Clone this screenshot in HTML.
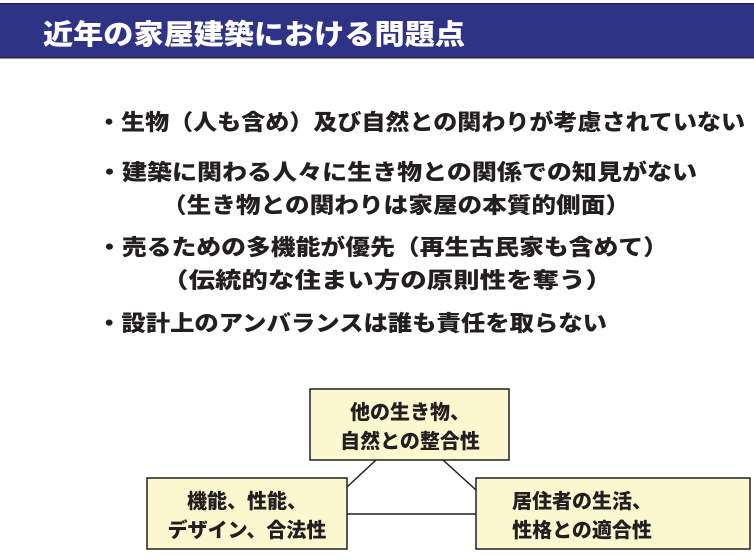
<!DOCTYPE html>
<html><head><meta charset="utf-8"><style>
html,body{margin:0;padding:0;background:#fff;}
svg{display:block}
text{font-family:"Liberation Sans","Noto Sans CJK JP",sans-serif;font-weight:900;}
</style></head><body>
<svg width="754" height="559" viewBox="0 0 754 559" xmlns="http://www.w3.org/2000/svg">
<rect x="0" y="3" width="754" height="55" fill="#2e3386"/>
<line x1="0" y1="3.5" x2="754" y2="3.5" stroke="#222" stroke-width="1"/>
<line x1="0" y1="58" x2="754" y2="58" stroke="#222" stroke-width="1"/>
<text x="43" y="44" font-size="28" fill="#fff" textLength="422" lengthAdjust="spacingAndGlyphs">近年の家屋建築における問題点</text>

<g font-size="22" fill="#231f20">
<text x="97" y="130" textLength="648" lengthAdjust="spacingAndGlyphs">・生物（人も含め）及び自然との関わりが考慮されていない</text>
<text x="97" y="180" textLength="600" lengthAdjust="spacingAndGlyphs">・建築に関わる人々に生き物との関係での知見がない</text>
<text x="162" y="213" textLength="468" lengthAdjust="spacingAndGlyphs">（生き物との関わりは家屋の本質的側面）</text>
<text x="97" y="255" textLength="571" lengthAdjust="spacingAndGlyphs">・売るための多機能が優先（再生古民家も含めて）</text>
<text x="162" y="288" textLength="450" lengthAdjust="spacingAndGlyphs">（伝統的な住まい方の原則性を奪う）</text>
<text x="97" y="331" textLength="510" lengthAdjust="spacingAndGlyphs">・設計上のアンバランスは誰も責任を取らない</text>
</g>

<g stroke="#231f20" stroke-width="1.5">
<line x1="376" y1="460" x2="347" y2="487"/>
<line x1="443" y1="460" x2="476" y2="490"/>
<line x1="347" y1="514" x2="476" y2="514"/>
</g>
<g fill="#fbf8d0" stroke="#231f20" stroke-width="1.5">
<rect x="310" y="389" width="199" height="71"/>
<rect x="147" y="478" width="200" height="71"/>
<rect x="476" y="478" width="274" height="71"/>
</g>
<g font-size="20" fill="#231f20" text-anchor="middle">
<text x="410" y="419">他の生き物、</text>
<text x="410" y="448">自然との整合性</text>
<text x="247" y="508">機能、性能、</text>
<text x="247" y="537">デザイン、合法性</text>
<text x="582" y="508">居住者の生活、</text>
<text x="582" y="537">性格との適合性</text>
</g>
</svg>
</body></html>
